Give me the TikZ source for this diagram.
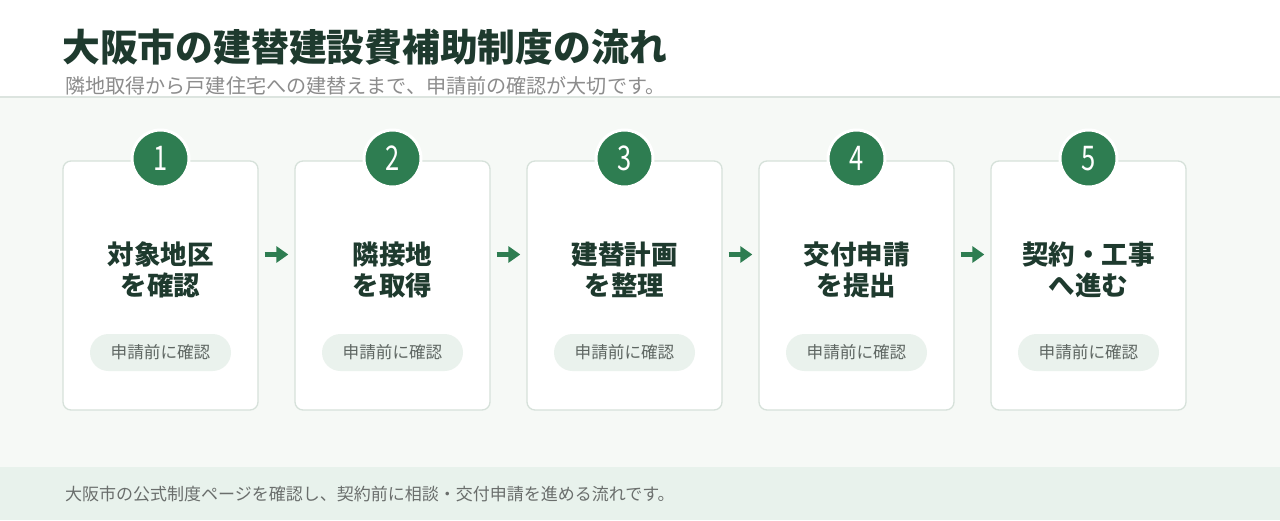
\documentclass[tikz,border=0pt]{standalone}
\usepackage{fontspec}
\setmainfont{Noto Sans CJK JP}
\usetikzlibrary{arrows.meta}
\definecolor{bandbg}{HTML}{F6F9F6}
\definecolor{bandline}{HTML}{DCE4DF}
\definecolor{footbg}{HTML}{E8F2EC}
\definecolor{cardline}{HTML}{D6E1DA}
\definecolor{green}{HTML}{2E7D51}
\definecolor{ink}{HTML}{1E3A2E}
\definecolor{subgray}{HTML}{8C8C8C}
\definecolor{pillbg}{HTML}{EAF2ED}
\definecolor{pilltext}{HTML}{5E6662}
\definecolor{foottext}{HTML}{6A6E6C}
\tikzset{
  card/.style={draw=cardline, line width=1.3pt, fill=white, rounded corners=8pt,
    minimum width=195pt, minimum height=249pt, inner sep=0pt},
  numcirc/.style={circle, fill=green, draw=white, line width=3pt, minimum size=57pt,
    inner sep=0pt, text=white, font=\fontsize{34}{34}\selectfont},
  stitle/.style={align=center, text=ink, font=\fontsize{26.5}{31}\selectfont\bfseries, inner sep=0pt},
  pill/.style={fill=pillbg, rounded corners=18.5pt, minimum width=141pt, minimum height=37pt,
    inner sep=0pt, text=pilltext, font=\fontsize{16.6}{16.6}\selectfont},
  flowarrow/.style={draw=green, line width=4.5pt, -{Triangle[length=12pt,width=16pt]}},
}
\begin{document}
\begin{tikzpicture}[x=1pt,y=-1pt]
\useasboundingbox (0,0) rectangle (1280,520);
\fill[white] (0,0) rectangle (1280,97);
\fill[bandbg] (0,97) rectangle (1280,467);
\draw[bandline, line width=1.5pt] (0,97) -- (1280,97);
\fill[footbg] (0,467) rectangle (1280,520);

\node[anchor=base west, inner sep=0pt, text=ink, font=\fontsize{37.8}{38}\selectfont\bfseries] (title) at (62,61) {大阪市の建替建設費補助制度の流れ};
\node[anchor=base west, inner sep=0pt, text=subgray, font=\fontsize{20.1}{20}\selectfont] (subtitle) at (65,93.5) {隣地取得から戸建住宅への建替えまで、申請前の確認が大切です。};
\node[anchor=base west, inner sep=0pt, text=foottext, font=\fontsize{17}{17}\selectfont] (footer) at (65,500) {大阪市の公式制度ページを確認し、契約前に相談・交付申請を進める流れです。};

\foreach \i/\x/\la/\lb in {1/160.5/対象地区/を確認, 2/392.5/隣接地/を取得, 3/624.5/建替計画/を整理, 4/856.5/交付申請/を提出, 5/1088.5/契約・工事/へ進む}{
  \node[card] (c\i) at (\x,285.5) {};
  \node[numcirc] (n\i) at (\x,158.5) {\scalebox{0.75}[1]{\i}};
  \node[stitle] (t\i) at (\x,269.5) {\la\\\lb};
  \node[pill] (p\i) at (\x,352.5) {申請前に確認};
}
\foreach \i/\j in {1/2,2/3,3/4,4/5}{
  \draw[flowarrow] ([shift={(6,-31)}]c\i.east) -- ([shift={(-6,-31)}]c\j.west);
}
\end{tikzpicture}
\end{document}
